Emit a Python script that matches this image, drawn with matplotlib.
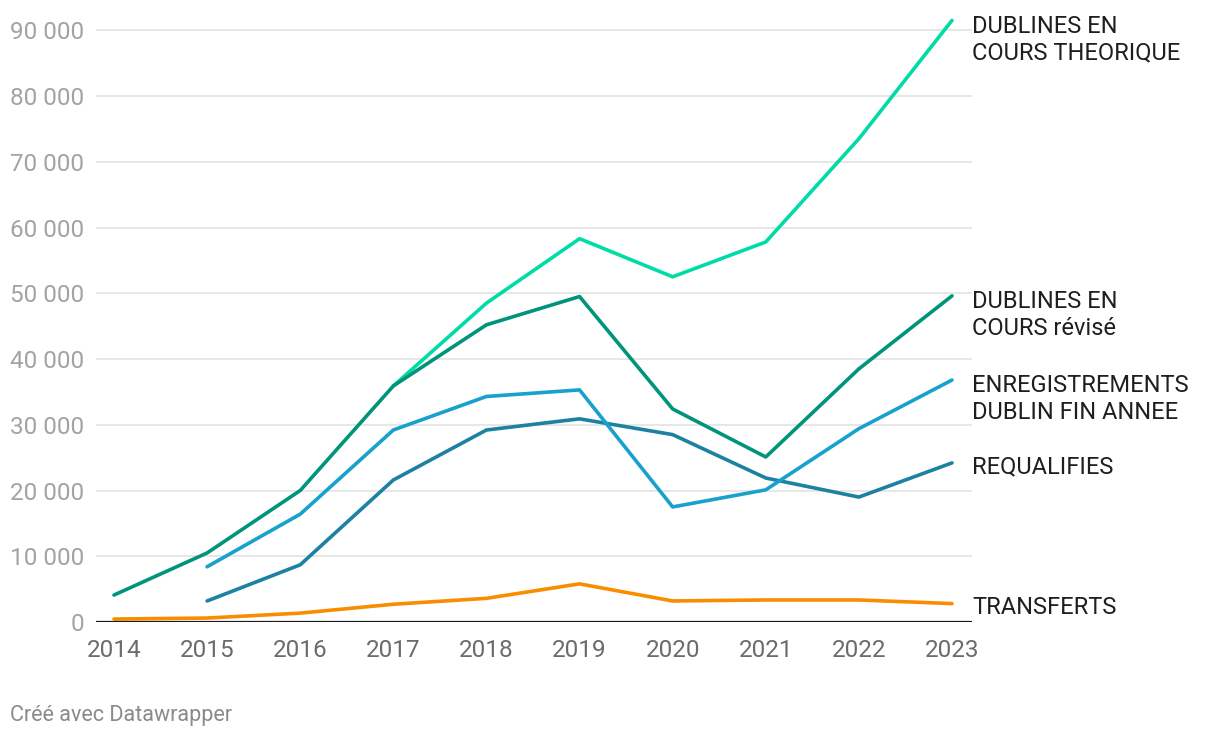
import matplotlib
matplotlib.use("Agg")
import matplotlib.pyplot as plt
import numpy as np

years = [2014, 2015, 2016, 2017, 2018, 2019, 2020, 2021, 2022, 2023]

theorique_years = [2017, 2018, 2019, 2020, 2021, 2022, 2023]
theorique = [35900, 48500, 58300, 52500, 57800, 73500, 91500]

revise = [4100, 10500, 20000, 35900, 45200, 49500, 32400, 25100, 38500, 49600]

enreg_years = [2015, 2016, 2017, 2018, 2019, 2020, 2021, 2022, 2023]
enregistrements = [8400, 16400, 29200, 34300, 35300, 17500, 20100, 29400, 36800]

requal_years = [2015, 2016, 2017, 2018, 2019, 2020, 2021, 2022, 2023]
requalifies = [3200, 8700, 21600, 29200, 30900, 28500, 21900, 19000, 24200]

transferts = [450, 600, 1350, 2700, 3600, 5800, 3200, 3350, 3350, 2800]

yticks = [0, 10000, 20000, 30000, 40000, 50000, 60000, 70000, 80000, 90000]
ytick_labels = ["0", "10 000", "20 000", "30 000", "40 000", "50 000",
                "60 000", "70 000", "80 000", "90 000"]

labels = ["DUBLINES EN\nCOURS THEORIQUE", "DUBLINES EN\nCOURS révisé",
          "ENREGISTREMENTS\nDUBLIN FIN ANNEE", "REQUALIFIES", "TRANSFERTS"]

plt.rcParams['font.family'] = ['Roboto', 'DejaVu Sans']

fig = plt.figure(figsize=(12.2, 7.38), dpi=100)
ax = fig.add_axes([96 / 1220, (738 - 622) / 738, 876 / 1220, (622 - 12) / 738])

c_theo = "#00dca6"
c_rev = "#00957a"
c_enr = "#18a1cd"
c_req = "#1d81a2"
c_tra = "#fa8c00"

lw = 2.6
kw = dict(lw=lw, solid_capstyle='round', solid_joinstyle='round')
ax.plot(years, transferts, color=c_tra, zorder=3, **kw)
ax.plot(requal_years, requalifies, color=c_req, zorder=3, **kw)
ax.plot(enreg_years, enregistrements, color=c_enr, zorder=3, **kw)
ax.plot(theorique_years, theorique, color=c_theo, zorder=3, **kw)
ax.plot(years, revise, color=c_rev, zorder=4, **kw)

x0 = 2014 - 18 / 93.1
x1 = 2023 + 20 / 93.1
ax.set_xlim(x0, x1)
ymax = (622 - 12) / 65.75 * 10000
ax.set_ylim(0, ymax)

for s in ax.spines.values():
    s.set_visible(False)

ax.set_yticks(yticks)
ax.set_yticklabels(ytick_labels)
ax.set_xticks(years)
ax.set_xticklabels([str(y) for y in years])
ax.tick_params(axis='y', length=0, pad=8.6, labelsize=17.5, labelcolor="#a3a3a3")
ax.tick_params(axis='x', length=0, pad=12, labelsize=17.5, labelcolor="#6b6b6b")
for yt in yticks[1:]:
    ax.axhline(yt, color="#e5e5e5", lw=1.3, zorder=1)
ax.axhline(0, color="#1a1a1a", lw=1.6, zorder=5)

# end labels
label_y = [91500, 49600, 36800, 24200, 2800]
offsets_px = [-19, -19, -19, -4, -4]
for txt, yv, off in zip(labels, label_y, offsets_px):
    ax.annotate(txt, xy=(1, yv), xycoords=('axes fraction', 'data'),
                xytext=(0, off), textcoords='offset pixels',
                ha='left', va='center', fontsize=17, color="#1f1f1f",
                linespacing=1.2, annotation_clip=False)

fig.text(10 / 1220, 1 - 715 / 738, "Créé avec Datawrapper", fontsize=15.5,
         color="#8a8a8a", ha='left', va='center')

fig.savefig("out.png", dpi=100, facecolor="white")
